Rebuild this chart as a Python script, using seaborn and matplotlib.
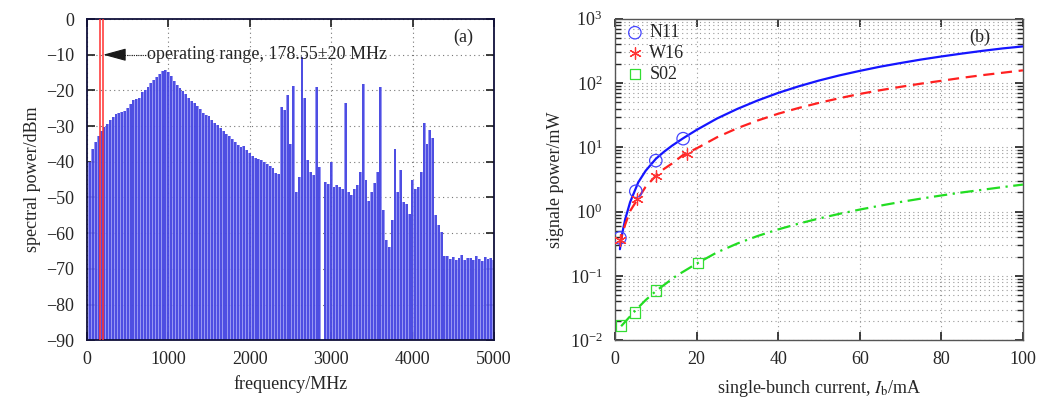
"""Two-panel figure: (a) beam spectrum with operating band, (b) signal power vs bunch current."""
import matplotlib
matplotlib.use("Agg")
import matplotlib.pyplot as plt
import numpy as np
import seaborn as sns

# ---------------------------------------------------------------------------
# (a) spectrum: comb lines at harmonics of 35.71 MHz, peak level of each line
# ---------------------------------------------------------------------------
LINE_SPACING_MHZ = 35.71
HARMONIC = np.arange(1, 141)
LEVEL_DBM = [
    -40.0, -36.5, -34.5, -32.8, -31.4, -30.3, -29.5, -28.3, -27.4, -26.5,
    -26.3, -26.1, -25.8, -24.8, -23.8, -22.7, -22.5, -22.0, -20.5, -19.8,
    -19.0, -18.0, -17.0, -16.2, -15.3, -14.7, -14.3, -14.8, -16.0, -17.3,
    -18.4, -19.4, -20.3, -21.1, -22.2, -23.0, -23.5, -24.3, -25.1, -26.3,
    -27.0, -27.3, -28.2, -29.2, -29.6, -30.4, -31.5, -32.3, -32.8, -33.6,
    -34.4, -35.2, -35.9, -35.5, -36.8, -37.6, -38.3, -38.9, -39.3, -39.6,
    -40.0, -40.6, -41.2, -41.8, -43.2, -43.3, -24.6, -25.5, -21.3, -35.0,
    -18.8, -48.6, -44.2, -10.6, -22.2, -39.5, -42.8, -43.7, -19.0, -41.4,
    -90.0, -45.6, -46.1, -40.1, -47.0, -46.5, -47.0, -47.5, -23.6, -48.4,
    -49.3, -47.5, -46.5, -42.8, -18.2, -45.0, -51.0, -48.6, -46.0, -42.8,
    -19.0, -53.5, -62.0, -63.8, -56.2, -36.5, -48.5, -42.3, -51.3, -51.8,
    -54.6, -45.2, -47.6, -47.0, -43.0, -29.0, -35.0, -31.0, -33.3, -55.0,
    -57.8, -59.8, -66.4, -66.5, -67.2, -66.8, -67.5, -67.0, -66.2, -67.4,
    -67.1, -66.9, -67.6, -66.3, -67.2, -67.8, -66.8, -67.3, -66.9, -67.5,
]
BAND_CENTER_MHZ = 178.55
BAND_HALF_MHZ = 20

# ---------------------------------------------------------------------------
# (b) measured points and fitted curves (power in mW, current in mA)
# ---------------------------------------------------------------------------
N11_I = [1.2, 5.1, 10.0, 16.7]
N11_P = [0.39, 2.07, 6.2, 13.6]
W16_I = [1.2, 5.5, 10.0, 17.7]
W16_P = [0.36, 1.55, 3.6, 7.9]
S02_I = [1.5, 4.9, 10.0, 20.4]
S02_P = [0.017, 0.027, 0.059, 0.157]

FIT_I = [1.2, 1.8, 2.5, 3.7, 5.7, 7.5, 10, 12, 14, 16.7, 20, 25, 30, 35, 40,
         45, 50, 55, 60, 65, 70, 75, 80, 85, 90, 95, 100]
N11_FIT_P = [0.26, 0.47, 0.76, 1.4, 2.85, 4.3, 6.6, 8.5, 10.6, 13.8, 18.6, 28,
             39.5, 53.5, 70, 88.5, 109, 131, 154, 179, 204, 231, 258, 286, 315,
             344, 370]
W16_FIT_P = [0.3, 0.45, 0.63, 1.02, 1.62, 2.42, 3.6, 4.6, 5.6, 7.6, 9.6, 14.3,
             19.8, 26.1, 33.2, 40.8, 49, 57.9, 67.5, 77, 87, 97.5, 108, 120,
             132, 144, 157]
S02_FIT_I = [1.5, 3, 5, 7.5, 10, 15, 20, 25, 30, 35, 40, 45, 50, 55, 60, 65,
             70, 75, 80, 85, 90, 95, 100]
S02_FIT_P = [0.0165, 0.021, 0.029, 0.042, 0.058, 0.1, 0.155, 0.232, 0.319,
             0.418, 0.528, 0.649, 0.78, 0.922, 1.074, 1.236, 1.41, 1.59, 1.78,
             1.98, 2.18, 2.4, 2.63]

sns.set_theme(style="ticks")
plt.rcParams.update({
    "font.family": ["Liberation Serif", "DejaVu Serif"],
    "mathtext.fontset": "stix",
    "font.size": 13,
    "axes.labelsize": 13,
    "xtick.labelsize": 13,
    "ytick.labelsize": 13,
    "xtick.direction": "in",
    "ytick.direction": "in",
    "xtick.top": True,
    "ytick.right": True,
    "xtick.major.pad": 8,
    "ytick.major.pad": 9,
    "axes.unicode_minus": True,
})

fig = plt.figure(figsize=(10.38, 4.05), dpi=100)
ax1 = fig.add_axes([0.0838, 0.160, 0.392, 0.793])
ax2 = fig.add_axes([0.5925, 0.160, 0.393, 0.794])

# ---- panel (a) ----
freqs = HARMONIC * LINE_SPACING_MHZ
levels = np.array(LEVEL_DBM)
ax1.bar(freqs, levels + 90, bottom=-90, width=LINE_SPACING_MHZ, color="#8c8cf2",
        alpha=0.9, linewidth=0, zorder=2)
ax1.vlines(freqs, -90, levels, color="#3030dc", lw=1.2, alpha=0.85, zorder=2)
for f in (BAND_CENTER_MHZ - BAND_HALF_MHZ, BAND_CENTER_MHZ + BAND_HALF_MHZ):
    ax1.axvline(f, color="#ff3030", lw=1.3, alpha=0.85, zorder=3)
ax1.set_xlim(0, 5000)
ax1.set_ylim(-90, 0)
ax1.set_xticks(range(0, 5001, 1000))
ax1.set_yticks(range(-90, 1, 10))
ax1.grid(True, ls=(0, (1, 3)), color="#777777", lw=0.8, zorder=1)
ax1.set_axisbelow(True)
ax1.set_xlabel("frequency/MHz", labelpad=5)
ax1.set_ylabel("spectral power/dBm", labelpad=4)
ax1.annotate("", xy=(BAND_CENTER_MHZ + BAND_HALF_MHZ, -10), xytext=(400, -10),
             arrowprops=dict(arrowstyle="-|>,head_length=1.1,head_width=0.3",
                             color="k", lw=0.8, shrinkA=0, shrinkB=0), zorder=5)
ax1.plot([400, 720], [-10, -10], ls=(0, (1, 1)), color="k", lw=0.8, zorder=5)
ax1.text(735, -10, "operating range, 178.55±20 MHz", ha="left", va="center",
         fontsize=13, zorder=5)
ax1.text(4620, -5, "(a)", ha="center", va="center", fontsize=13)
for s in ax1.spines.values():
    s.set_color("#10103a")
    s.set_linewidth(1.3)

# ---- panel (b) ----
fits = [
    (FIT_I, N11_FIT_P, "#1515ff", "-"),
    (FIT_I, W16_FIT_P, "#ff2020", (0, (5, 3))),
    (S02_FIT_I, S02_FIT_P, "#22dd22", (0, (6, 2.5, 1, 2.5))),
]
for xs, ys, c, ls in fits:
    sns.lineplot(x=xs, y=ys, ax=ax2, color=c, lw=1.6, linestyle=ls, zorder=3)

sns.scatterplot(x=N11_I, y=N11_P, ax=ax2, marker="o", s=80, facecolors="none",
                edgecolors="#4444ff", linewidth=0.9, label="N11", zorder=4)
sns.scatterplot(x=W16_I, y=W16_P, ax=ax2, marker=(6, 2, 0), s=70, color="#ff3333",
                linewidth=0.9, label="W16", zorder=4)
sns.scatterplot(x=S02_I, y=S02_P, ax=ax2, marker="s", s=55, facecolors="none",
                edgecolors="#33dd33", linewidth=0.9, label="S02", zorder=4)

ax2.set_yscale("log")
ax2.set_xlim(0, 100)
ax2.set_ylim(1e-2, 1e3)
ax2.set_xticks(range(0, 101, 20))
ax2.grid(True, which="major", axis="x", ls=(0, (1, 3)), color="#999999", lw=0.8)
ax2.grid(True, which="both", axis="y", ls=(0, (1, 3)), color="#999999", lw=0.8)
ax2.set_axisbelow(True)
ax2.set_xlabel(r"single-bunch current, $I_{\rm b}$/mA", labelpad=7)
ax2.set_ylabel("signale power/mW", labelpad=4)
ax2.text(89.5, 510, "(b)", ha="center", va="center", fontsize=13)
for s in ax2.spines.values():
    s.set_color("#555555")
    s.set_linewidth(1.0)
ax2.legend(loc="upper left", frameon=False, fontsize=13, handletextpad=0.2,
           bbox_to_anchor=(0.0, 1.01), borderaxespad=0.3, labelspacing=0.2,
           handlelength=1.2, borderpad=0.2)

fig.savefig("out.png", dpi=100)
